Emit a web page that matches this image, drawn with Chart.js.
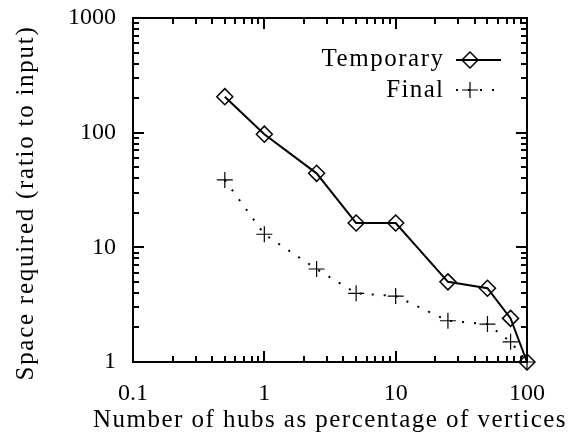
<!DOCTYPE html>
<html><head><meta charset="utf-8">
<script src="https://cdn.jsdelivr.net/npm/chart.js@4.4.1/dist/chart.umd.min.js"></script>
<style>html,body{margin:0;padding:0;background:#fff;overflow:hidden}canvas{display:block}</style>
</head><body>
<canvas id="c" width="573" height="435"></canvas>
<script>
// ---- data ----
const hubsPercent = [0.5, 1, 2.5, 5, 10, 25, 50, 75, 100];
const temporarySpace = [206, 97, 44.2, 16.3, 16.3, 5.0, 4.4, 2.4, 1.0];
const finalSpace = [38.7, 13.0, 6.47, 3.97, 3.76, 2.29, 2.14, 1.50, 1.0];
const xTickLabels = ['0.1', '1', '10', '100'];
const yTickLabels = ['1', '10', '100', '1000'];
const seriesNames = ['Temporary', 'Final'];
const xTitle = 'Number of hubs as percentage of vertices';
const yTitle = 'Space required (ratio to input)';

const FONT = '"Liberation Serif", "Times New Roman", serif';

function minorVals(vals) {
  const out = [];
  for (let i = 0; i < vals.length - 1; i++)
    for (let m = 2; m <= 9; m++) out.push(vals[i] * m);
  return out;
}

function spacedText(ctx, text, x, y, targetW, align) {
  ctx.letterSpacing = '0px';
  const w = ctx.measureText(text).width;
  const ls = (targetW - w) / text.length;
  ctx.letterSpacing = ls + 'px';
  ctx.textAlign = 'left';
  const sx = align === 'center' ? x - targetW / 2 : align === 'right' ? x - targetW + ls : x;
  ctx.fillText(text, sx, y);
  ctx.letterSpacing = '0px';
}

const frameTicks = {
  id: 'frameTicks',
  afterDatasetsDraw(chart) {
    const {ctx, chartArea: a, scales: {x, y}} = chart;
    const xv = xTickLabels.map(Number), yv = yTickLabels.map(Number);
    ctx.save();
    ctx.strokeStyle = '#000';
    ctx.lineWidth = 2;
    ctx.beginPath();
    const xt = (vals, len) => vals.forEach(v => {
      const p = Math.round(x.getPixelForValue(v));
      ctx.moveTo(p, a.bottom); ctx.lineTo(p, a.bottom - len);
      ctx.moveTo(p, a.top); ctx.lineTo(p, a.top + len);
    });
    const yt = (vals, len) => vals.forEach(v => {
      const p = Math.round(y.getPixelForValue(v));
      ctx.moveTo(a.left, p); ctx.lineTo(a.left + len, p);
      ctx.moveTo(a.right, p); ctx.lineTo(a.right - len, p);
    });
    xt(xv, 11); xt(minorVals(xv), 6);
    yt(yv, 11); yt(minorVals(yv), 6);
    ctx.stroke();
    ctx.strokeRect(a.left, a.top, a.right - a.left, a.bottom - a.top);
    ctx.restore();
  }
};

const textsPlugin = {
  id: 'texts',
  afterDraw(chart) {
    const {ctx, chartArea: a} = chart;
    ctx.save();
    ctx.fillStyle = '#000';
    ctx.textBaseline = 'alphabetic';
    ctx.font = '25px ' + FONT;
    // x title
    spacedText(ctx, xTitle, (a.left + a.right) / 2, 427, 474, 'center');
    // y title
    ctx.save();
    ctx.translate(33, 203);
    ctx.rotate(-Math.PI / 2);
    spacedText(ctx, yTitle, 0, 0, 355, 'center');
    ctx.restore();
    // legend
    spacedText(ctx, seriesNames[0], 443, 66, 123, 'right');
    spacedText(ctx, seriesNames[1], 443, 97, 58, 'right');
    ctx.strokeStyle = '#000';
    ctx.lineWidth = 2;
    ctx.beginPath(); ctx.moveTo(456, 60); ctx.lineTo(501, 60); ctx.stroke();
    ctx.setLineDash([2, 10]);
    ctx.beginPath(); ctx.moveTo(456, 90); ctx.lineTo(501, 90); ctx.stroke();
    ctx.setLineDash([]);
    ctx.fillStyle = 'rgba(0,0,0,0)';
    ctx.lineWidth = 1.5;
    Chart.helpers.drawPoint(ctx, {pointStyle: 'rectRot', radius: 8, rotation: 0, borderWidth: 1.5}, 470, 60);
    ctx.lineWidth = 1.2;
    Chart.helpers.drawPoint(ctx, {pointStyle: 'cross', radius: 8, rotation: 0, borderWidth: 1.2}, 470, 90);
    ctx.restore();
  }
};

const xTickVals = xTickLabels.map(Number);
const yTickVals = yTickLabels.map(Number);

new Chart(document.getElementById('c'), {
  type: 'line',
  data: {
    datasets: [
      {
        label: seriesNames[0],
        data: hubsPercent.map((v, i) => ({x: v, y: temporarySpace[i]})),
        borderColor: '#000', borderWidth: 2, tension: 0, fill: false,
        pointStyle: 'rectRot', pointRadius: 8, pointBorderWidth: 1.5,
        pointBorderColor: '#000', pointBackgroundColor: 'rgba(0,0,0,0)',
        clip: false
      },
      {
        label: seriesNames[1],
        data: hubsPercent.map((v, i) => ({x: v, y: finalSpace[i]})),
        borderColor: '#000', borderWidth: 2, borderDash: [2, 10], tension: 0, fill: false,
        pointStyle: 'cross', pointRadius: 8, pointBorderWidth: 1.2,
        pointBorderColor: '#000', pointBackgroundColor: 'rgba(0,0,0,0)',
        clip: false
      }
    ]
  },
  options: {
    responsive: false, animation: false, devicePixelRatio: 1,
    layout: {padding: {top: 18, right: 46, left: 0, bottom: 0}},
    plugins: {legend: {display: false}, tooltip: {enabled: false}, title: {display: false}},
    scales: {
      x: {
        type: 'logarithmic', min: 0.1, max: 100,
        grid: {display: false, drawTicks: false}, border: {display: false},
        afterBuildTicks: s => { s.ticks = xTickVals.map(v => ({value: v})); },
        afterFit: s => { s.height = 73; s.paddingLeft = 0; s.paddingRight = 0; },
        ticks: {
          autoSkip: false, maxRotation: 0, padding: 17, color: '#000',
          font: {family: FONT, size: 24},
          callback: (v) => { const i = xTickVals.indexOf(v); return i >= 0 ? xTickLabels[i] : ''; }
        }
      },
      y: {
        type: 'logarithmic', min: 1, max: 1000,
        grid: {display: false, drawTicks: false}, border: {display: false},
        afterBuildTicks: s => { s.ticks = yTickVals.map(v => ({value: v})); },
        afterFit: s => { s.width = 133; s.paddingTop = 0; s.paddingBottom = 0; },
        ticks: {
          autoSkip: false, padding: 17, color: '#000',
          font: {family: FONT, size: 24},
          callback: (v) => { const i = yTickVals.indexOf(v); return i >= 0 ? yTickLabels[i] : ''; }
        }
      }
    }
  },
  plugins: [frameTicks, textsPlugin]
});
</script>
</body></html>
